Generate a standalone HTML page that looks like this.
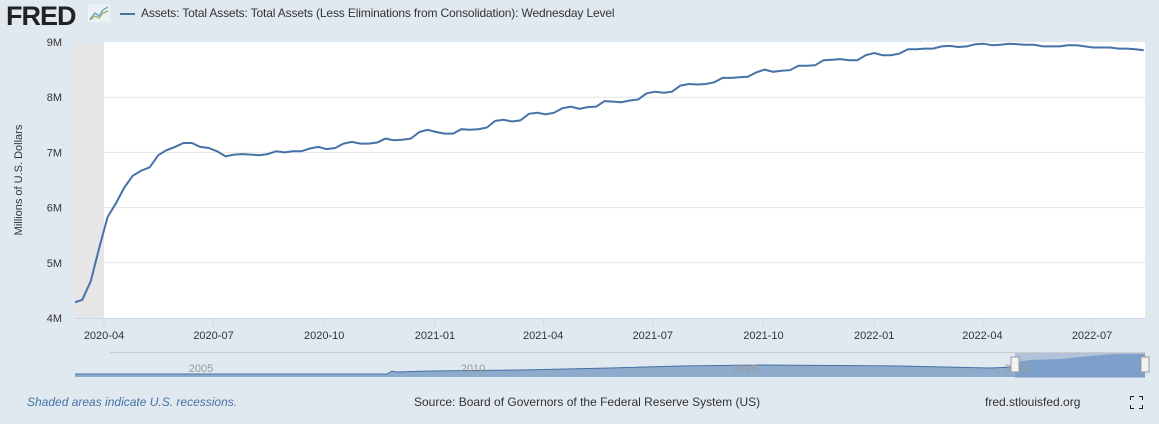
<!DOCTYPE html>
<html><head><meta charset="utf-8"><style>
body{margin:0;width:1159px;height:424px;background:#e1e9f0;font-family:"Liberation Sans",sans-serif;overflow:hidden;position:relative}
.t{position:absolute;white-space:nowrap}
</style></head><body>
<div class="t" style="left:6px;top:1px;font-size:27px;font-weight:bold;color:#222;letter-spacing:-1px">FRED</div>
<svg class="t" style="left:88px;top:4px" width="22" height="18"><rect width="22" height="18" fill="#eef1f4"/><polyline points="2,15 7,9 11,12 15,6 20,3" fill="none" stroke="#6a9bc6" stroke-width="1.3"/><polyline points="2,16 7,12 11,14 15,9 20,7" fill="none" stroke="#8bb75a" stroke-width="1.3"/></svg>
<div class="t" style="left:120px;top:6px;font-size:12px;letter-spacing:-0.15px;color:#333"><span style="display:inline-block;width:15px;height:2px;background:#4572a7;vertical-align:middle;margin-right:6px"></span>Assets: Total Assets: Total Assets (Less Eliminations from Consolidation): Wednesday Level</div>
<svg id="c" class="t" style="left:0;top:0" width="1159" height="424"></svg>
<div class="t" style="left:27px;top:395px;font-size:12px;font-style:italic;color:#4572a7">Shaded areas indicate U.S. recessions.</div>
<div class="t" style="left:414px;top:395px;font-size:12px;color:#333">Source: Board of Governors of the Federal Reserve System (US)</div>
<div class="t" style="left:985px;top:395px;font-size:12px;color:#333">fred.stlouisfed.org</div>
<svg class="t" style="left:1130px;top:396px" width="13" height="13"><path d="M0 4V0H4M9 0H13V4M13 9V13H9M4 13H0V9" fill="none" stroke="#222" stroke-width="2"/></svg>
<script>
const values=[4.28,4.33,4.67,5.27,5.83,6.08,6.37,6.58,6.67,6.73,6.95,7.04,7.10,7.17,7.17,7.10,7.08,7.02,6.93,6.96,6.97,6.96,6.95,6.97,7.02,7.00,7.02,7.02,7.07,7.10,7.06,7.08,7.16,7.19,7.16,7.16,7.18,7.25,7.22,7.23,7.25,7.37,7.41,7.37,7.34,7.34,7.42,7.41,7.42,7.45,7.57,7.59,7.56,7.58,7.70,7.72,7.69,7.72,7.80,7.83,7.79,7.82,7.83,7.93,7.92,
7.91,7.94,7.96,8.07,8.10,8.08,8.10,8.21,8.24,8.23,8.24,8.27,8.35,8.35,8.36,8.37,8.45,8.50,8.46,8.48,8.49,8.57,8.57,8.58,8.67,8.68,8.69,8.67,8.67,8.76,8.80,8.76,8.76,8.79,8.87,8.87,8.88,8.88,8.92,8.93,8.91,8.92,8.96,8.97,8.94,8.95,8.97,8.96,8.95,8.95,8.92,8.92,8.92,8.94,8.94,8.92,8.90,8.90,8.90,8.88,8.88,8.87,8.85];
const startDate="2020-03-07";
const yTicks=[4,5,6,7,8,9];
const yLabels=["4M","5M","6M","7M","8M","9M"];
const xTicks=["2020-04-01","2020-07-01","2020-10-01","2021-01-01","2021-04-01","2021-07-01","2021-10-01","2022-01-01","2022-04-01","2022-07-01"];
const xLabels=["2020-04","2020-07","2020-10","2021-01","2021-04","2021-07","2021-10","2022-01","2022-04","2022-07"];
const recession=["2020-02-01","2020-04-01"];
const navYears=["2005","2010","2015","2020"];
const NS="http://www.w3.org/2000/svg",svg=document.getElementById('c');
const L=75,R=1145,T=42,B=318;
const d0=Date.parse("2020-04-01"),pxDay=(1092-104)/((Date.parse("2022-07-01")-d0)/864e5);
const xs=d=>104+(Date.parse(d)-d0)/864e5*pxDay;
const xn=t=>104+(t-d0)/864e5*pxDay;
const ys=v=>B-(v-4)/5*(B-T);
function el(t,a,p){const e=document.createElementNS(NS,t);for(const k in a)e.setAttribute(k,a[k]);(p||svg).appendChild(e);return e;}
const bg=el('rect',{x:L,y:T,width:R-L,height:B-T,fill:'#fff'});


const rx=Math.max(L,xs(recession[0])),rs=el('rect',{x:rx,y:T,width:xs(recession[1])-rx,height:B-T,fill:'#e6e6e6'});


yTicks.forEach((v,i)=>{
 if(v>4&&v<9){const g=el('line',{x1:L,x2:R,y1:ys(v),y2:ys(v),stroke:'#e6e6e6'});}
 const t=el('text',{x:L-13,y:ys(v)+4,'text-anchor':'end','font-size':11,fill:'#333','font-family':'Liberation Sans'});t.textContent=yLabels[i];
 
 
});
const ax=el('line',{x1:L,x2:R,y1:B+0.5,y2:B+0.5,stroke:'#ccd6eb'});


xTicks.forEach((d,i)=>{
 const x=xs(d);el('line',{x1:x,x2:x,y1:B,y2:B+8,stroke:'#ccd6eb'});
 const t=el('text',{x:x,y:339,'text-anchor':'middle','font-size':11,fill:'#333','font-family':'Liberation Sans'});t.textContent=xLabels[i];
 
 
});
const yt=el('text',{x:0,y:0,transform:'translate(22,180) rotate(-90)','text-anchor':'middle','font-size':11,fill:'#333','font-family':'Liberation Sans'});yt.textContent='Millions of U.S. Dollars';


const s0=Date.parse(startDate);
const pts=values.map((v,i)=>xn(s0+i*7*864e5).toFixed(1)+','+ys(v).toFixed(1)).join(' ');
const cp=el('clipPath',{id:'cl'});el('rect',{x:L,y:T-5,width:R-L,height:B-T+10},cp);
const line=el('polyline',{points:pts,fill:'none',stroke:'#4572a7','stroke-width':2,'clip-path':'url(#cl)'});


const nv=el('g',{});


el('line',{x1:110,x2:1145,y1:352.5,y2:352.5,stroke:'#ccc'},nv);
el('path',{d:'M75 374 L387 374 L392 371 L397 372 L430 371 L520 370 L610 368 L680 366 L760 365 L900 366 L990 368 L1015 367 L1015 377 L75 377Z',fill:'#8fabcb'},nv);
el('path',{d:'M75 374 L387 374 L392 371 L397 372 L430 371 L520 370 L610 368 L680 366 L760 365 L900 366 L990 368 L1015 367',fill:'none',stroke:'#4572a7'},nv);
el('rect',{x:1015,y:353,width:130,height:25,fill:'#a5b9d6',opacity:0.8},nv);
el('path',{d:'M1015 362 L1030 360 L1060 359 L1090 356 L1115 354 L1145 354 L1145 377 L1015 377Z',fill:'#7f9fcb'},nv);
navYears.forEach((y,i)=>{const t=el('text',{x:201+i*272,y:372,'text-anchor':'middle','font-size':11,fill:'#999','font-family':'Liberation Sans'},nv);t.textContent=y;});
[1015,1145].forEach(x=>el('rect',{x:x-4,y:357,width:8,height:15,fill:'#f2f2f2',stroke:'#999'},nv));
</script>
</body></html>
